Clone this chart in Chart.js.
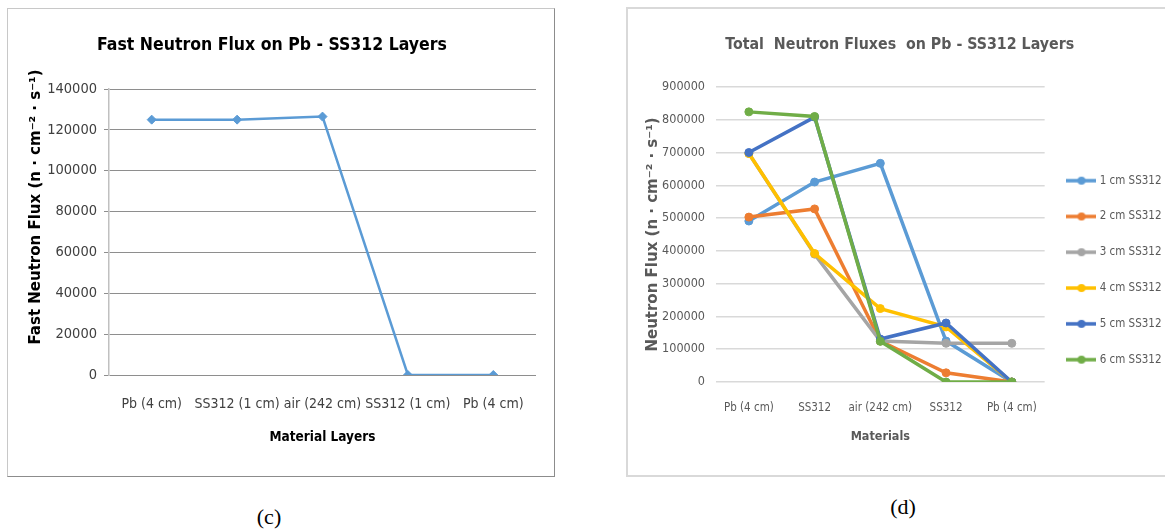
<!DOCTYPE html>
<html>
<head>
<meta charset="utf-8">
<script src="https://cdn.jsdelivr.net/npm/chart.js@4.4.1/dist/chart.umd.min.js"></script>
<style>
  html, body { margin: 0; padding: 0; background: #fff; width: 1165px; height: 530px; overflow: hidden; position: relative; }
  .panel { position: absolute; background: #fff; }
  #panelC { left: 7px; top: 8px; width: 546px; height: 467px; border: 1px solid #c8c8c8; border-right-color: #8c8c8c; border-bottom-color: #8c8c8c; }
  #panelD { left: 626px; top: 7px; width: 540px; height: 466px; border: 2px solid #d9d9d9; }
  canvas { display: block; }
  .caption { position: absolute; font-family: 'Liberation Serif', 'Times New Roman', serif; font-size: 22px; line-height: 26px; color: #000; transform: translateX(-50%); }
</style>
</head>
<body>
<div class="panel" id="panelC"><canvas id="chartC" width="546" height="467"></canvas></div>
<div class="panel" id="panelD"><canvas id="chartD" width="540" height="466"></canvas></div>
<div class="caption" style="left:269px; top:504px;">(c)</div>
<div class="caption" style="left:903px; top:494px;">(d)</div>

<script>
// ---- data: fast neutron flux through the layer stack (panel c) ----
const layerLabels = ['Pb (4 cm)', 'SS312 (1 cm)', 'air (242 cm)', 'SS312 (1 cm)', 'Pb (4 cm)'];
const fastFlux = [125000, 125000, 126500, 0, 0];
const fastFluxMax = 140000;
const fastFluxStep = 20000;

// ---- data: total neutron flux for each SS312 thickness (panel d) ----
const materialLabels = ['Pb (4 cm)', 'SS312', 'air (242 cm)', 'SS312', 'Pb (4 cm)'];
const seriesNames = ['1 cm SS312', '2 cm SS312', '3 cm SS312', '4 cm SS312', '5 cm SS312', '6 cm SS312'];
const flux1cm = [491000, 610000, 667000, 125000, 0];
const flux2cm = [503000, 528000, 125000, 28000, 0];
const flux3cm = [697000, 390000, 125000, 118000, 118000];
const flux4cm = [697000, 392000, 224000, 168000, 0];
const flux5cm = [700000, 808000, 131000, 180000, 0];
const flux6cm = [824000, 810000, 124000, 0, 0];
const totalFluxMax = 900000;
const totalFluxStep = 100000;

const seriesColors = ['#5b9bd5', '#ed7d31', '#a5a5a5', '#ffc000', '#4472c4', '#70ad47'];

const NARROW = "'DejaVu Sans Condensed', Lato, sans-serif";
const WIDE = "'DejaVu Sans', Verdana, sans-serif";
const plainNumber = v => String(v);

// rotated axis caption drawn at a fixed spot beside the value axis
const sideTitle = {
  id: 'sideTitle',
  afterDraw(chart, args, o) {
    const ctx = chart.ctx;
    ctx.save();
    ctx.translate(o.x, o.y);
    ctx.rotate(-Math.PI / 2);
    ctx.font = 'bold ' + o.size + 'px ' + o.family;
    ctx.fillStyle = o.color;
    ctx.textAlign = 'center';
    ctx.textBaseline = 'middle';
    ctx.fillText(o.text, 0, 0);
    ctx.restore();
  }
};

// moves the legend column to a fixed vertical start
const legendPlacement = {
  id: 'legendPlacement',
  afterLayout(chart, args, o) {
    const lg = chart.legend;
    if (!lg) return;
    const dy = o.top - lg.top;
    lg.top += dy;
    lg.bottom += dy;
  }
};

// ---------- panel (c) ----------
new Chart(document.getElementById('chartC'), {
  type: 'line',
  data: {
    labels: layerLabels,
    datasets: [{
      label: 'Fast Neutron Flux',
      data: fastFlux,
      borderColor: '#5b9bd5',
      backgroundColor: '#5b9bd5',
      borderWidth: 2.5,
      pointStyle: 'rectRot',
      pointRadius: 4.5,
      pointBorderWidth: 1,
      tension: 0
    }]
  },
  options: {
    responsive: false,
    animation: false,
    events: [],
    layout: { padding: { left: 0, right: 18, top: 0, bottom: 0 } },
    plugins: {
      legend: { display: false },
      tooltip: { enabled: false },
      title: {
        display: true,
        text: 'Fast Neutron Flux on Pb - SS312 Layers',
        color: '#000',
        font: { family: NARROW, size: 17.5, weight: 'bold', lineHeight: 1.2 },
        padding: { top: 25.5, bottom: 33.5 }
      },
      sideTitle: {
        text: 'Fast Neutron Flux (n \u00b7 cm\u207b\u00b2 \u00b7 s\u207b\u00b9)',
        x: 28, y: 198, size: 15, family: WIDE, color: '#000'
      }
    },
    scales: {
      x: {
        offset: true,
        grid: { display: false, drawTicks: false },
        border: { display: false },
        ticks: { color: '#404040', font: { family: NARROW, size: 14 }, padding: 20.6, maxRotation: 0, autoSkip: false },
        title: { display: true, text: 'Material Layers', color: '#000', font: { family: NARROW, size: 13.5, weight: 'bold' }, padding: { top: 0, bottom: 30.9 } },
        afterFit(s) { s.height = 101; }
      },
      y: {
        min: 0,
        max: fastFluxMax,
        ticks: { stepSize: fastFluxStep, color: '#404040', font: { family: NARROW, size: 14.5 }, padding: 7, callback: plainNumber },
        grid: { color: '#8e8e8e', lineWidth: 1, drawTicks: true, tickLength: 5 },
        border: { display: true, color: '#c0c0c0', width: 1.5 },
        afterFit(s) { s.width = 101; }
      }
    }
  },
  plugins: [sideTitle]
});

// ---------- panel (d) ----------
function legendIcon(color) {
  const c = document.createElement('canvas');
  c.width = 30; c.height = 10;
  const g = c.getContext('2d');
  g.strokeStyle = color; g.lineWidth = 3.5;
  g.beginPath(); g.moveTo(0, 5); g.lineTo(30, 5); g.stroke();
  g.fillStyle = color;
  g.beginPath(); g.arc(15, 5, 4, 0, Math.PI * 2); g.fill();
  return c;
}
const legendIcons = seriesColors.map(legendIcon);

const totalSeries = [flux1cm, flux2cm, flux3cm, flux4cm, flux5cm, flux6cm];
const totalDatasets = totalSeries.map((values, i) => ({
  label: seriesNames[i],
  data: values,
  borderColor: seriesColors[i],
  backgroundColor: seriesColors[i],
  borderWidth: 3.5,
  pointStyle: 'circle',
  pointRadius: 4,
  pointBorderWidth: 1,
  tension: 0,
  order: totalSeries.length - i   // later series drawn on top
}));

new Chart(document.getElementById('chartD'), {
  type: 'line',
  data: { labels: materialLabels, datasets: totalDatasets },
  options: {
    responsive: false,
    animation: false,
    events: [],
    layout: { padding: { left: 0, right: -3.5, top: 0, bottom: 0 } },
    plugins: {
      tooltip: { enabled: false },
      title: {
        display: true,
        text: 'Total  Neutron Fluxes  on Pb - SS312 Layers',
        color: '#595959',
        font: { family: NARROW, size: 15.8, weight: 'bold', lineHeight: 1.2 },
        padding: { top: 26.5, bottom: 32.5 }
      },
      legend: {
        position: 'right',
        align: 'start',
        fullSize: false,
        labels: {
          usePointStyle: true,
          pointStyleWidth: 25,
          padding: 24.3,
          color: '#595959',
          font: { family: NARROW, size: 11.5 },
          generateLabels(chart) {
            const items = Chart.defaults.plugins.legend.labels.generateLabels(chart);
            items.forEach(it => { it.pointStyle = legendIcons[it.datasetIndex]; });
            return items;
          },
          sort: (a, b) => a.datasetIndex - b.datasetIndex
        }
      },
      legendPlacement: { top: 141.6 }
    },
    scales: {
      x: {
        offset: true,
        grid: { display: false, drawTicks: false },
        border: { display: false },
        ticks: { color: '#595959', font: { family: NARROW, size: 11.5 }, padding: 19.6, maxRotation: 0, autoSkip: false },
        title: { display: true, text: 'Materials', color: '#595959', font: { family: NARROW, size: 12.5, weight: 'bold' }, padding: { top: 0, bottom: 30.5 } },
        afterFit(s) { s.height = 93; }
      },
      y: {
        min: 0,
        max: totalFluxMax,
        ticks: { stepSize: totalFluxStep, color: '#595959', font: { family: NARROW, size: 12.5 }, padding: 11, callback: plainNumber },
        grid: { color: '#d9d9d9', lineWidth: 1.5, drawTicks: false },
        border: { display: false },
        title: { display: true, text: 'Neutron Flux (n \u00b7 cm\u207b\u00b2 \u00b7 s\u207b\u00b9)', color: '#595959', font: { family: WIDE, size: 15, weight: 'bold' }, padding: { top: 16, bottom: 0 } },
        afterFit(s) { s.width = 88; }
      }
    }
  },
  plugins: [legendPlacement]
});
</script>
</body>
</html>
